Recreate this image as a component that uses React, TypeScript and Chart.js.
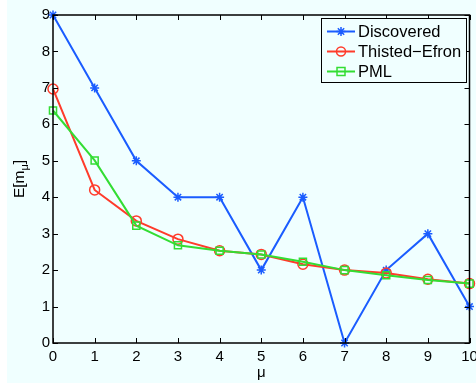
import React, { useEffect, useRef } from "react";
import { Chart, registerables } from "chart.js";

Chart.register(...registerables);

const mu = [0, 1, 2, 3, 4, 5, 6, 7, 8, 9, 10];
const discovered = [9, 7, 5, 4, 4, 2, 4, 0, 2, 3, 1];
const thistedEfron = [6.97, 4.2, 3.35, 2.85, 2.53, 2.43, 2.16, 2.0, 1.92, 1.75, 1.63];
const pml = [6.38, 5.01, 3.22, 2.68, 2.53, 2.43, 2.23, 2.0, 1.86, 1.73, 1.63];
const xTickValues = [0, 1, 2, 3, 4, 5, 6, 7, 8, 9, 10];
const yTickValues = [0, 1, 2, 3, 4, 5, 6, 7, 8, 9];
const seriesLabels = ["Discovered", "Thisted\u2212Efron", "PML"];
const seriesColors = ["#1a5cff", "#ff3b2b", "#33dd33"];
const seriesMarkers = ["star", "circle", "rect"];

const FONT = "'Liberation Sans', Arial, Helvetica, sans-serif";

function drawMarker(ctx: CanvasRenderingContext2D, style: string, x: number, y: number, color: string) {
  ctx.save();
  ctx.strokeStyle = color;
  ctx.lineWidth = 1.5;
  ctx.beginPath();
  if (style === "star") {
    const r = 4.5;
    for (let i = 0; i < 4; i++) {
      const a = (i * Math.PI) / 4;
      ctx.moveTo(x - r * Math.cos(a), y - r * Math.sin(a));
      ctx.lineTo(x + r * Math.cos(a), y + r * Math.sin(a));
    }
  } else if (style === "circle") {
    ctx.arc(x, y, 4.5, 0, Math.PI * 2);
  } else {
    ctx.rect(x - 4, y - 4, 8, 8);
  }
  ctx.stroke();
  ctx.restore();
}

const decorPlugin = {
  id: "decor",
  beforeDraw(chart: any) {
    const ctx = chart.ctx as CanvasRenderingContext2D;
    ctx.save();
    ctx.fillStyle = "#ffffff";
    ctx.fillRect(0, 0, chart.width, chart.height);
    ctx.fillStyle = "#f0ffff";
    ctx.fillRect(7, 0, chart.width - 7, chart.height - 3);
    ctx.restore();
  },
  afterDraw(chart: any) {
    const ctx = chart.ctx as CanvasRenderingContext2D;
    const xs = chart.scales.x;
    const ys = chart.scales.y;
    const { left, right, top, bottom } = chart.chartArea;
    ctx.save();
    ctx.strokeStyle = "#000";
    ctx.lineWidth = 1.5;
    ctx.strokeRect(left, top, right - left, bottom - top);
    ctx.lineWidth = 1;
    ctx.beginPath();
    const tl = 5;
    xTickValues.forEach((v) => {
      const px = Math.round(xs.getPixelForValue(v)) + 0.5;
      ctx.moveTo(px, bottom);
      ctx.lineTo(px, bottom - tl);
      ctx.moveTo(px, top);
      ctx.lineTo(px, top + tl);
    });
    yTickValues.forEach((v) => {
      const py = Math.round(ys.getPixelForValue(v)) + 0.5;
      ctx.moveTo(left, py);
      ctx.lineTo(left + tl, py);
      ctx.moveTo(right, py);
      ctx.lineTo(right - tl, py);
    });
    ctx.stroke();

    ctx.fillStyle = "#000";
    ctx.font = `15px ${FONT}`;
    ctx.textAlign = "center";
    ctx.textBaseline = "middle";
    ctx.fillText("\u03bc", (left + right) / 2, 373);

    ctx.save();
    ctx.translate(20, (top + bottom) / 2);
    ctx.rotate(-Math.PI / 2);
    ctx.textAlign = "left";
    ctx.textBaseline = "middle";
    const mainFont = `15.5px ${FONT}`;
    const subFont = `11px ${FONT}`;
    ctx.font = mainFont;
    const w1 = ctx.measureText("E[m").width;
    const w3 = ctx.measureText("]").width;
    ctx.font = subFont;
    const w2 = ctx.measureText("\u03bc").width;
    const total = w1 + w2 + w3;
    let cx = -total / 2;
    ctx.font = mainFont;
    ctx.fillText("E[m", cx, 0);
    cx += w1;
    ctx.font = subFont;
    ctx.fillText("\u03bc", cx, 5);
    cx += w2;
    ctx.font = mainFont;
    ctx.fillText("]", cx, 0);
    ctx.restore();

    const lx = 321, ly = 18, lw = 145, lh = 64;
    ctx.fillStyle = "#f0ffff";
    ctx.fillRect(lx, ly, lw, lh);
    ctx.strokeStyle = "#000";
    ctx.lineWidth = 1;
    ctx.strokeRect(lx + 0.5, ly + 0.5, lw, lh);
    chart.data.datasets.forEach((ds: any, i: number) => {
      const ry = ly + 13.5 + i * 20;
      ctx.strokeStyle = ds.borderColor;
      ctx.lineWidth = 2;
      ctx.beginPath();
      ctx.moveTo(327, ry);
      ctx.lineTo(355, ry);
      ctx.stroke();
      drawMarker(ctx, seriesMarkers[i], 341, ry, ds.borderColor);
      ctx.fillStyle = "#000";
      ctx.font = `16.5px ${FONT}`;
      ctx.textAlign = "left";
      ctx.textBaseline = "middle";
      ctx.fillText(ds.label, 358, ry + 1);
    });
    ctx.restore();
  },
};

export default function App() {
  const ref = useRef<HTMLCanvasElement>(null);
  useEffect(() => {
    if (!ref.current) return;
    const series = [discovered, thistedEfron, pml];
    const chart = new Chart(ref.current, {
      type: "line",
      data: {
        datasets: series.map((vals, i) => ({
          label: seriesLabels[i],
          data: mu.map((m, j) => ({ x: m, y: vals[j] })),
          borderColor: seriesColors[i],
          backgroundColor: "rgba(0,0,0,0)",
          borderWidth: 2,
          pointStyle: seriesMarkers[i] as any,
          pointRadius: i === 0 ? 4.5 : 5,
          pointBorderWidth: 1.5,
          pointBorderColor: seriesColors[i],
          pointBackgroundColor: "rgba(0,0,0,0)",
          tension: 0,
          clip: false as any,
          order: 3 - i,
        })),
      },
      options: {
        animation: false,
        responsive: false,
        events: [],
        layout: { padding: { left: 0, top: 15, right: 6, bottom: 0 } },
        plugins: { legend: { display: false }, tooltip: { enabled: false }, title: { display: false } },
        scales: {
          x: {
            type: "linear",
            min: 0,
            max: 10,
            grid: { display: false, drawTicks: false },
            border: { display: false },
            afterBuildTicks: (s: any) => {
              s.ticks = xTickValues.map((v) => ({ value: v }));
            },
            ticks: { color: "#000", font: { family: FONT, size: 15 }, padding: 5, maxRotation: 0, autoSkip: false },
            afterFit: (s: any) => {
              s.height = 43;
              s.paddingLeft = 0;
              s.paddingRight = 0;
            },
          },
          y: {
            type: "linear",
            min: 0,
            max: 9,
            grid: { display: false, drawTicks: false },
            border: { display: false },
            afterBuildTicks: (s: any) => {
              s.ticks = yTickValues.map((v) => ({ value: v }));
            },
            ticks: { color: "#000", font: { family: FONT, size: 15 }, padding: 3, autoSkip: false },
            afterFit: (s: any) => {
              s.width = 53;
              s.paddingTop = 0;
              s.paddingBottom = 0;
            },
          },
        },
      },
      plugins: [decorPlugin],
    });
    return () => chart.destroy();
  }, []);
  return (
    <div style={{ position: "absolute", left: 0, top: 0, width: 476, height: 386 }}>
      <canvas ref={ref} width={476} height={386} style={{ width: 476, height: 386, display: "block" }} />
    </div>
  );
}
